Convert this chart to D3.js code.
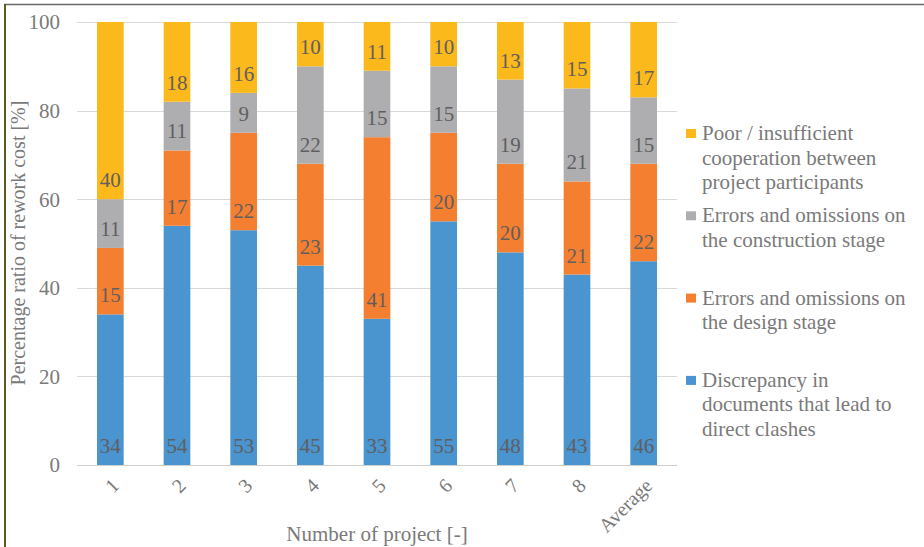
<!DOCTYPE html>
<html>
<head>
<meta charset="utf-8">
<script src="https://cdn.jsdelivr.net/npm/d3@7"></script>
<style>
  body { margin: 0; background: #fff; }
  svg text { font-family: "Liberation Serif", Tinos, "Nimbus Roman", "Nimbus Roman No9 L", FreeSerif, "Noto Serif", "DejaVu Serif", "Times New Roman", Times, serif; }
</style>
</head>
<body>
<svg id="chart" width="924" height="547"></svg>
<script>
// Data
const projects = ["1", "2", "3", "4", "5", "6", "7", "8", "Average"];
const discrepancy  = [34, 54, 53, 45, 33, 55, 48, 43, 46];
const designErrors = [15, 17, 22, 23, 41, 20, 20, 21, 22];
const constrErrors = [11, 11, 9, 22, 15, 15, 19, 21, 15];
const cooperation  = [40, 18, 16, 10, 11, 10, 13, 15, 17];
const yTicks = [0, 20, 40, 60, 80, 100];

const legendLines = [
  ["Poor / insufficient", "cooperation between", "project participants"],
  ["Errors and omissions on", "the construction stage"],
  ["Errors and omissions on", "the design stage"],
  ["Discrepancy in", "documents that lead to", "direct clashes"]
];
const colors = ["#4a94d0", "#f47f30", "#aeaeb0", "#fcb91c"];

const svg = d3.select("#chart");

// frame edges
svg.append("line").attr("x1", 4).attr("x2", 924).attr("y1", 4.5).attr("y2", 4.5)
  .attr("stroke", "#6b6b6b").attr("stroke-width", 1.5);
svg.append("line").attr("x1", 5).attr("x2", 5).attr("y1", 4).attr("y2", 547)
  .attr("stroke", "#5e5a22").attr("stroke-width", 2);

const x = d3.scaleBand().domain(projects).range([77, 677]).paddingInner(0.6).paddingOuter(0.3);
const y = d3.scaleLinear().domain([0, 100]).range([465, 22]);

// gridlines
svg.append("g").selectAll("line").data(yTicks).join("line")
  .attr("x1", 77).attr("x2", 677)
  .attr("y1", d => Math.round(y(d)) + 0.5).attr("y2", d => Math.round(y(d)) + 0.5)
  .attr("stroke", d => d === 0 ? "#d0d0d0" : "#d9d9d9").attr("stroke-width", 1.2);

// y tick labels
svg.append("g").selectAll("text").data(yTicks).join("text")
  .attr("x", 60).attr("y", d => y(d)).attr("dy", "0.35em")
  .attr("text-anchor", "end").attr("fill", "#7a7a7a").style("font-size", "21px")
  .text(d => d);

// stack
const rows = projects.map((p, i) => ({
  project: p, s0: discrepancy[i], s1: designErrors[i], s2: constrErrors[i], s3: cooperation[i]
}));
const stack = d3.stack().keys(["s0", "s1", "s2", "s3"])(rows);

const layers = svg.append("g").selectAll("g").data(stack).join("g")
  .attr("fill", (d, i) => colors[i]);

layers.selectAll("rect").data(d => d).join("rect")
  .attr("x", d => x(d.data.project))
  .attr("y", d => y(d[1]))
  .attr("width", x.bandwidth())
  .attr("height", d => y(d[0]) - y(d[1]));

// data labels (inside base)
layers.selectAll("text").data(d => d).join("text")
  .attr("x", d => x(d.data.project) + x.bandwidth() / 2)
  .attr("y", d => y(d[0]) - 12)
  .attr("text-anchor", "middle").attr("fill", "#5f5f5f").style("font-size", "21px")
  .text(d => d[1] - d[0]);

// x tick labels
svg.append("g").selectAll("text").data(projects).join("text")
  .attr("transform", d => `translate(${x(d) + x.bandwidth() / 2 + 5},${482}) rotate(-45)`)
  .attr("text-anchor", "end").attr("dy", "0.35em")
  .attr("fill", "#7a7a7a").style("font-size", "20px")
  .text(d => d);

// axis titles
svg.append("text").attr("x", 377).attr("y", 541).attr("text-anchor", "middle")
  .attr("fill", "#7a7a7a").style("font-size", "21px")
  .text("Number of project [-]");
svg.append("text").attr("transform", "translate(25,243) rotate(-90)")
  .attr("text-anchor", "middle").attr("fill", "#7a7a7a").style("font-size", "20px")
  .text("Percentage ratio of rework cost [%]");

// legend
const legend = svg.append("g").selectAll("g").data(legendLines).join("g")
  .attr("transform", (d, i) => `translate(686,${140 + i * 82.3})`);
legend.append("rect").attr("x", 0).attr("y", -11).attr("width", 10).attr("height", 9)
  .attr("fill", (d, i) => colors[3 - i]);
legend.each(function (lines) {
  d3.select(this).selectAll("text").data(lines).join("text")
    .attr("x", 16).attr("y", (d, j) => j * 24.5)
    .attr("fill", "#7a7a7a").style("font-size", "21px")
    .text(d => d);
});
</script>
</body>
</html>
